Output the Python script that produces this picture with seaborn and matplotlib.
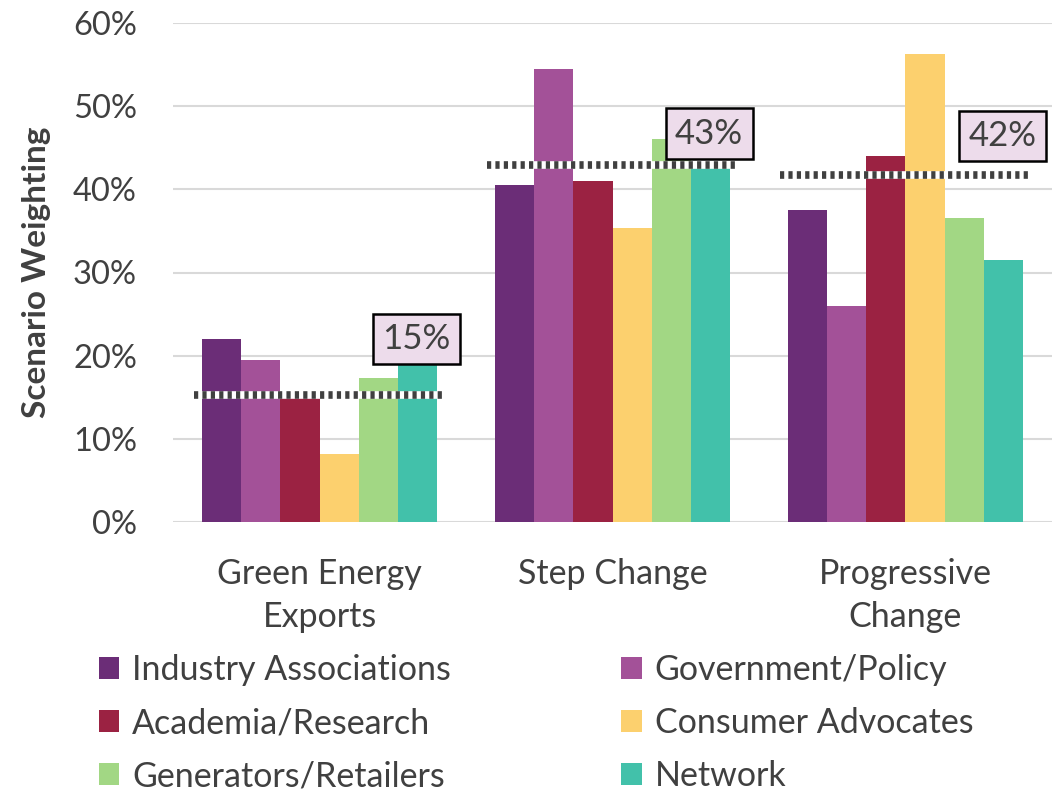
import matplotlib
matplotlib.use("Agg")
import matplotlib.pyplot as plt
import seaborn as sns
import pandas as pd

scenarios = ["Green Energy\nExports", "Step Change", "Progressive\nChange"]
groups = ["Industry Associations", "Government/Policy", "Academia/Research",
          "Consumer Advocates", "Generators/Retailers", "Network"]
industry = [22.0, 40.5, 37.5]
government = [19.5, 54.5, 26.0]
academia = [15.0, 41.0, 44.0]
consumer = [8.2, 35.3, 56.3]
generators = [17.3, 46.0, 36.6]
network = [19.0, 42.8, 31.5]
weighted_avg = [15.3, 42.9, 41.7]
yticks = [0, 10, 20, 30, 40, 50, 60]

colors = ["#6B2D77", "#A35198", "#9B2242", "#FCD06E", "#A2D784", "#42C1AA"]
label_offsets = [6.7, 3.8, 4.7]
TXT = "#404040"

series = [industry, government, academia, consumer, generators, network]
rows = []
for g, vals in zip(groups, series):
    for s, v in zip(scenarios, vals):
        rows.append({"scenario": s, "group": g, "value": v})
df = pd.DataFrame(rows)

sns.set_theme(style="white")
plt.rcParams["font.family"] = ["Lato", "DejaVu Sans"]

fig = plt.figure(figsize=(10.58, 7.93), dpi=100)
ax = fig.add_axes([173 / 1058, (793 - 522) / 793, 879 / 1058, 499 / 793])

sns.barplot(data=df, x="scenario", y="value", hue="group", order=scenarios,
            hue_order=groups, palette=colors, saturation=1, width=0.8,
            dodge=True, linewidth=0, ax=ax, errorbar=None)

handles, labels = ax.get_legend_handles_labels()
if ax.get_legend() is not None:
    ax.get_legend().remove()

ax.set_ylim(0, 60)
ax.set_xlim(-0.5, 2.5)
ax.set_yticks(yticks)
ax.set_yticklabels([f"{t}%" for t in yticks])
ax.yaxis.grid(True, color="#D9D9D9", linewidth=1.5)
ax.set_axisbelow(True)
for sp in ax.spines.values():
    sp.set_visible(False)
ax.tick_params(axis="both", length=0, colors=TXT)
ax.tick_params(axis="y", pad=26, labelsize=23.5)
ax.tick_params(axis="x", pad=26, labelsize=24.5)
for lab in ax.get_xticklabels():
    lab.set_linespacing(1.42)
ax.set_xlabel("")
ax.set_ylabel("Scenario Weighting", fontsize=24, fontweight="bold", color=TXT, labelpad=16)

for i, (avg, off) in enumerate(zip(weighted_avg, label_offsets)):
    ax.plot([i - 0.43, i + 0.43], [avg, avg], color="white", lw=5.5,
            solid_capstyle="butt", zorder=4)
    ax.plot([i - 0.43, i + 0.43], [avg, avg], color="#404040", lw=5.5,
            linestyle=(0, (0.55, 0.55)), dash_capstyle="butt", zorder=5)
    ax.text(i + 0.33, avg + off, f"{round(avg)}%", ha="center", va="center",
            fontsize=25, color=TXT, zorder=6,
            bbox=dict(boxstyle="square,pad=0.27", facecolor="#EDDCEB",
                      edgecolor="black", linewidth=1.8))

order = [0, 2, 4, 1, 3, 5]
fig.legend([handles[k] for k in order], [labels[k] for k in order], loc="upper left",
           bbox_to_anchor=(99 / 1058, (793 - 654) / 793), ncol=2, frameon=False,
           fontsize=24.5, handlelength=0.6, handleheight=0.6, handletextpad=0.38,
           columnspacing=5.0, labelspacing=0.62, borderpad=0, borderaxespad=0,
           labelcolor=TXT)

fig.savefig("out.png", dpi=100)
